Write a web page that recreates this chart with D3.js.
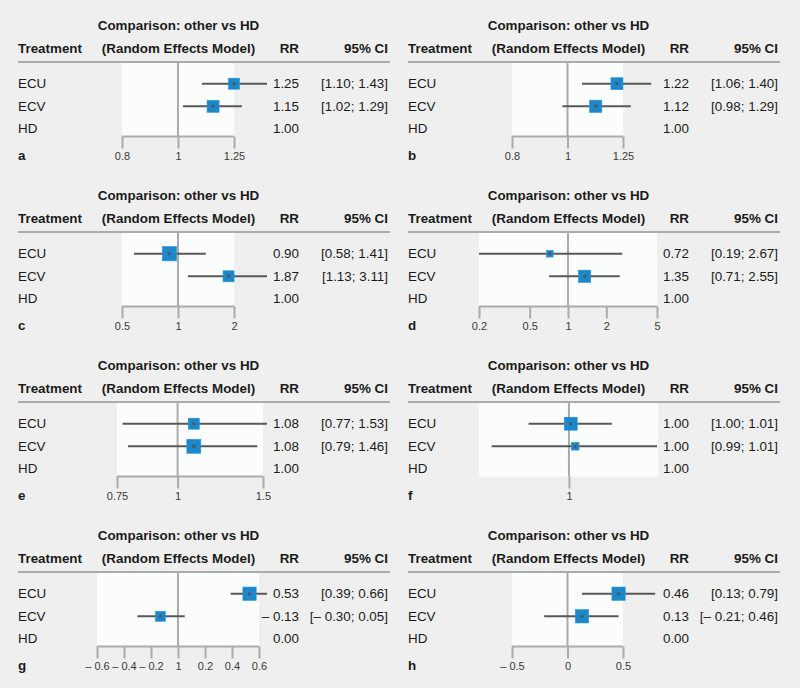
<!DOCTYPE html>
<html>
<head>
<meta charset="utf-8">
<script src="https://cdn.jsdelivr.net/npm/d3@7"></script>
<style>
  html, body { margin: 0; padding: 0; background: #efefef; }
  svg { display: block; }
  text { font-family: "Liberation Sans", Arial, sans-serif; }
</style>
</head>
<body>
<svg id="chart" width="800" height="688"></svg>
<script>
// ---------------- DATA ----------------
const panelLetters = ["a", "b", "c", "d", "e", "f", "g", "h"];
const treatments = ["ECU", "ECV", "HD"];
const titleLine1 = "Comparison: other vs HD";
const titleLine2 = "(Random Effects Model)";
const headers = ["Treatment", "RR", "95% CI"];

// estimates for ECU, ECV (HD is the reference)
const estimates = [
  [1.25, 1.15], [1.22, 1.12], [0.90, 1.87], [0.72, 1.35],
  [1.08, 1.08], [1.0002, 1.0007], [0.53, -0.13], [0.46, 0.13]
];
const lowerCI = [
  [1.10, 1.02], [1.06, 0.98], [0.58, 1.13], [0.19, 0.71],
  [0.77, 0.79], [0.9955, 0.9914], [0.39, -0.30], [0.13, -0.21]
];
const upperCI = [
  [1.43, 1.29], [1.40, 1.29], [1.41, 3.11], [2.67, 2.55],
  [1.53, 1.46], [1.0048, 1.0101], [0.66, 0.05], [0.79, 0.46]
];
// relative study weights (square area)
const weights = [
  [54, 64], [64, 67], [91, 54], [20, 67],
  [54, 87], [75, 26], [79, 44], [79, 79]
];
const rrLabels = [
  ["1.25", "1.15", "1.00"], ["1.22", "1.12", "1.00"],
  ["0.90", "1.87", "1.00"], ["0.72", "1.35", "1.00"],
  ["1.08", "1.08", "1.00"], ["1.00", "1.00", "1.00"],
  ["0.53", "\u2013 0.13", "0.00"], ["0.46", "0.13", "0.00"]
];
const ciLabels = [
  ["[1.10; 1.43]", "[1.02; 1.29]"], ["[1.06; 1.40]", "[0.98; 1.29]"],
  ["[0.58; 1.41]", "[1.13; 3.11]"], ["[0.19; 2.67]", "[0.71; 2.55]"],
  ["[0.77; 1.53]", "[0.79; 1.46]"], ["[1.00; 1.01]", "[0.99; 1.01]"],
  ["[0.39; 0.66]", "[\u2013 0.30; 0.05]"], ["[0.13; 0.79]", "[\u2013 0.21; 0.46]"]
];
const scaleTypes = ["log", "log", "log", "log", "log", "log", "linear", "linear"];
const nullValues = [1, 1, 1, 1, 1, 1, 0, 0];
const xDomains = [
  [0.8, 1.25], [0.8, 1.25], [0.5, 2], [0.2, 5],
  [0.75, 1.5], [0.99, 1.01], [-0.6, 0.6], [-0.5, 0.5]
];
const tickValues = [
  [0.8, 1, 1.25], [0.8, 1, 1.25], [0.5, 1, 2], [0.2, 0.5, 1, 2, 5],
  [0.75, 1, 1.5], [1], [-0.6, -0.4, -0.2, 0, 0.2, 0.4, 0.6], [-0.5, 0, 0.5]
];
const tickLabels = [
  ["0.8", "1", "1.25"], ["0.8", "1", "1.25"], ["0.5", "1", "2"],
  ["0.2", "0.5", "1", "2", "5"], ["0.75", "1", "1.5"], ["1"],
  ["\u2013 0.6", "\u2013 0.4", "\u2013 0.2", "1", "0.2", "0.4", "0.6"],
  ["\u2013 0.5", "0", "0.5"]
];

// ---------------- LAYOUT ----------------
const colX = [18, 408];
const rowY = [0, 170, 340, 510];
// forest-plot pixel extent, relative to the column's left edge
const plotRanges = [
  [104, 216], [104, 215], [104, 216], [71, 249],
  [99, 245], [71, 250], [79, 241], [104, 215]
];
const clipRight = 249;
const L = {
  titleY: 29.5, headY: 52.7, ruleY: 62, plotTop: 63, axisY: 136.5,
  rowCenters: [83.7, 106.3, 128.7], tickSize: 12, labelY: 160,
  titleCx: 160.5, rrRight: 281, ciRight: 370, ruleRight: 372
};
const FS = 13.4;
const textColor = "#1b1b1b";
const grey = "#ababab";
const lineColor = "#585858";
const squareColor = "#1c87c9";

const svg = d3.select("#chart");
svg.append("rect").attr("width", 800).attr("height", 688).attr("fill", "#efefef");

const sizeScale = d3.scaleSqrt().domain([0, 100]).range([0, 15]);

panelLetters.forEach((letter, i) => {
  const col = i % 2, row = Math.floor(i / 2);
  const g = svg.append("g").attr("transform", `translate(${colX[col]},${rowY[row]})`);

  const x = (scaleTypes[i] === "log" ? d3.scaleLog() : d3.scaleLinear())
    .domain(xDomains[i]).range(plotRanges[i]);

  // plot background
  g.append("rect")
    .attr("x", plotRanges[i][0]).attr("y", L.plotTop)
    .attr("width", plotRanges[i][1] - plotRanges[i][0])
    .attr("height", L.axisY - L.plotTop)
    .attr("fill", "#fbfcfc");

  // titles
  g.append("text").attr("x", L.titleCx).attr("y", L.titleY)
    .attr("text-anchor", "middle").attr("font-weight", "bold")
    .attr("font-size", FS).attr("fill", textColor).text(titleLine1);
  g.append("text").attr("x", L.titleCx).attr("y", L.headY)
    .attr("text-anchor", "middle").attr("font-weight", "bold")
    .attr("font-size", FS).attr("fill", textColor).text(titleLine2);
  g.append("text").attr("x", 0).attr("y", L.headY)
    .attr("font-weight", "bold").attr("font-size", FS).attr("fill", textColor).text(headers[0]);
  g.append("text").attr("x", L.rrRight).attr("y", L.headY).attr("text-anchor", "end")
    .attr("font-weight", "bold").attr("font-size", FS).attr("fill", textColor).text(headers[1]);
  g.append("text").attr("x", L.ciRight).attr("y", L.headY).attr("text-anchor", "end")
    .attr("font-weight", "bold").attr("font-size", FS).attr("fill", textColor).text(headers[2]);

  g.append("line").attr("x1", 0).attr("x2", L.ruleRight)
    .attr("y1", L.ruleY).attr("y2", L.ruleY)
    .attr("stroke", grey).attr("stroke-width", 2.2);

  // axis
  const ax = g.append("g").attr("transform", `translate(0,${L.axisY})`)
    .call(d3.axisBottom(x).tickValues(tickValues[i])
      .tickFormat((d, k) => tickLabels[i][k]).tickSize(L.tickSize).tickPadding(3.5));
  ax.select(".domain").remove();
  ax.selectAll(".tick line").attr("stroke", grey).attr("stroke-width", 2);
  ax.selectAll(".tick text").attr("fill", "#3a3a3a").attr("font-size", 11)
    .attr("font-family", "Liberation Sans, Arial, sans-serif");
  const tv = tickValues[i];
  if (tv.length > 1) {
    ax.append("line").attr("x1", x(tv[0])).attr("x2", x(tv[tv.length - 1]))
      .attr("y1", 0).attr("y2", 0).attr("stroke", grey).attr("stroke-width", 2);
  }

  // reference line
  g.append("line").attr("x1", x(nullValues[i])).attr("x2", x(nullValues[i]))
    .attr("y1", L.plotTop).attr("y2", L.axisY)
    .attr("stroke", grey).attr("stroke-width", 2);

  // clip for CI lines
  const clipId = "clip" + letter;
  g.append("clipPath").attr("id", clipId).append("rect")
    .attr("x", plotRanges[i][0]).attr("y", 0)
    .attr("width", clipRight - plotRanges[i][0]).attr("height", 170);

  const pts = estimates[i].map((e, k) => ({
    est: e, lo: lowerCI[i][k], hi: upperCI[i][k], w: weights[i][k], y: L.rowCenters[k]
  }));

  g.append("g").attr("clip-path", `url(#${clipId})`)
    .selectAll("line").data(pts).join("line")
    .attr("x1", d => x(d.lo)).attr("x2", d => x(d.hi))
    .attr("y1", d => d.y).attr("y2", d => d.y)
    .attr("stroke", lineColor).attr("stroke-width", 2);

  g.selectAll("rect.sq").data(pts).join("rect").attr("class", "sq")
    .attr("x", d => x(d.est) - sizeScale(d.w) / 2)
    .attr("y", d => d.y - sizeScale(d.w) / 2)
    .attr("width", d => sizeScale(d.w)).attr("height", d => sizeScale(d.w))
    .attr("fill", squareColor).attr("stroke", "#2a98d8").attr("stroke-width", 0.6);

  g.selectAll("circle.dot").data(pts).join("circle").attr("class", "dot")
    .attr("cx", d => x(d.est)).attr("cy", d => d.y).attr("r", 1.7)
    .attr("fill", "#4f5a62");

  // row texts
  treatments.forEach((t, k) => {
    const yb = L.rowCenters[k] + 4.7;
    g.append("text").attr("x", 0).attr("y", yb).attr("font-size", FS)
      .attr("fill", textColor).text(t);
    g.append("text").attr("x", L.rrRight).attr("y", yb).attr("text-anchor", "end")
      .attr("font-size", FS).attr("fill", textColor).text(rrLabels[i][k]);
    if (k < 2) {
      g.append("text").attr("x", L.ciRight).attr("y", yb).attr("text-anchor", "end")
        .attr("font-size", FS).attr("fill", textColor).text(ciLabels[i][k]);
    }
  });

  // panel letter
  g.append("text").attr("x", 0).attr("y", L.labelY).attr("font-weight", "bold")
    .attr("font-size", FS).attr("fill", textColor).text(letter);
});
</script>
</body>
</html>
